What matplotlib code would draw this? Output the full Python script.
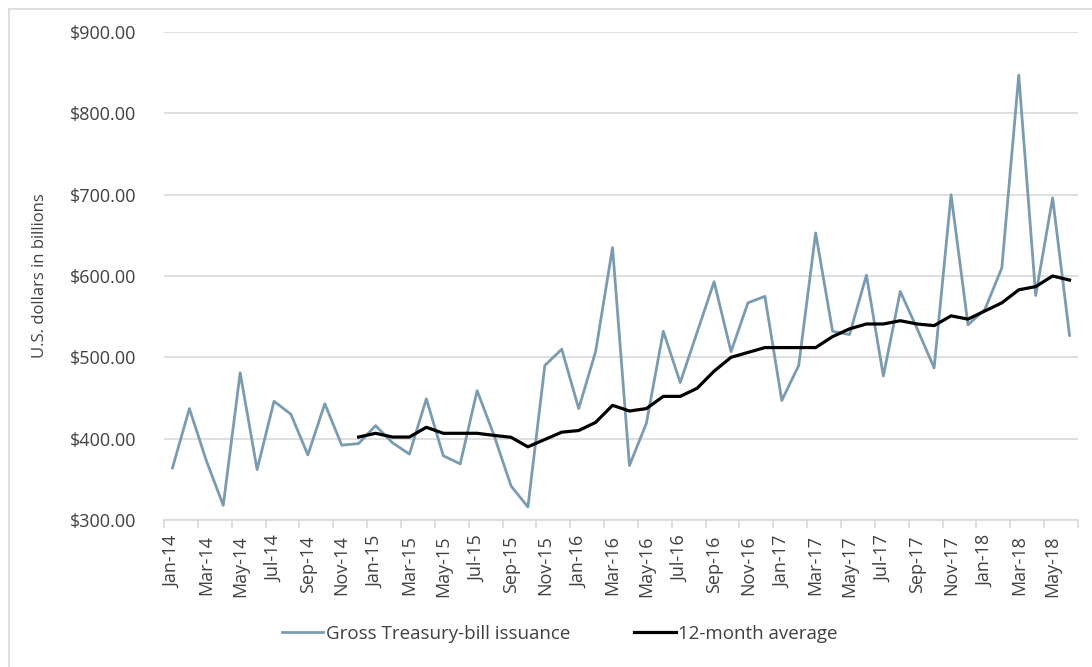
import matplotlib
matplotlib.use("Agg")
import matplotlib.pyplot as plt
from matplotlib.ticker import FixedLocator, FuncFormatter
from matplotlib.lines import Line2D

months = ["Jan", "Feb", "Mar", "Apr", "May", "Jun", "Jul", "Aug", "Sep", "Oct", "Nov", "Dec"]
categories = [f"{m}-{y}" for y in ["14", "15", "16", "17"] for m in months] + \
             [f"{m}-18" for m in months[:6]]

issuance = [364, 437, 373, 318, 481, 362, 446, 430, 380, 443, 392, 394,
            416, 395, 381, 449, 379, 369, 459, 404, 342, 316, 490, 510,
            437, 507, 635, 367, 419, 532, 469, 531, 593, 507, 567, 575,
            447, 490, 653, 532, 528, 601, 477, 581, 535, 487, 700, 540,
            559, 610, 847, 576, 696, 527]

avg_12m = [None] * 11 + [
            402, 406.6, 402, 402, 414, 406.6, 406.6, 406.6, 404, 401.7, 390, 399, 408,
            410, 420, 441, 434, 437, 452, 452, 462, 483, 500, 506, 512,
            512, 512, 512, 525.5, 535, 541, 541, 545, 541, 539, 551, 547,
            557, 567, 583, 587, 600, 595]

FONT = ["Open Sans", "DejaVu Sans"]
plt.rcParams["font.family"] = FONT

W, H = 1092, 667
fig = plt.figure(figsize=(W / 100, H / 100), dpi=100)
ax = fig.add_axes([164 / W, 1 - 520 / H, (1078 - 164) / W, (520 - 32) / H])

x = list(range(len(categories)))
ax.plot(x, issuance, color="#7b9bb0", lw=2.0, label="Gross Treasury-bill issuance")
ax_x = [i for i, v in zip(x, avg_12m) if v is not None]
ax_y = [v for v in avg_12m if v is not None]
ax.plot(ax_x, ax_y, color="black", lw=2.3, label="12-month average")

ax.set_xlim(-0.5, len(categories) - 0.5)
ax.set_ylim(300, 900)
ax.set_yticks(range(300, 901, 100))
ax.yaxis.set_major_formatter(FuncFormatter(lambda v, p: f"${v:,.2f}"))
ax.grid(axis="y", color="#d9d9d9", lw=1.2)
ax.set_axisbelow(True)
ax.tick_params(axis="y", length=0, pad=20, labelsize=13, colors="#404040")

ax.xaxis.set_major_locator(FixedLocator(x[::2]))
ax.set_xticklabels(categories[::2], rotation=90, fontsize=13, color="#404040")
ax.xaxis.set_minor_locator(FixedLocator([i - 0.5 for i in range(0, len(categories) + 1, 2)]))
ax.tick_params(axis="x", which="major", length=0, pad=11)
ax.tick_params(axis="x", which="minor", length=6, color="#d9d9d9", width=1.2)

for s in ["top", "right", "left"]:
    ax.spines[s].set_visible(False)
ax.spines["bottom"].set_color("#d9d9d9")
ax.spines["bottom"].set_linewidth(1.2)

fig.text(40 / W, 1 - 276 / H, "U.S. dollars in billions", rotation=90, ha="center", va="center",
         fontsize=12, color="#404040")

leg = fig.legend(loc="center", bbox_to_anchor=(560 / W, 1 - 634 / H), ncol=2, frameon=False,
                 prop={"size": 13.5}, handlelength=2.2, columnspacing=3.4,
                 handletextpad=0.15)
for t in leg.get_texts():
    t.set_color("#404040")

# chart-area border (visible on left and top only)
fig.add_artist(Line2D([8.5 / W, 8.5 / W], [0, 1 - 8.5 / H], transform=fig.transFigure,
                      color="#d9d9d9", lw=1.2))
fig.add_artist(Line2D([8.5 / W, 1], [1 - 8.5 / H, 1 - 8.5 / H], transform=fig.transFigure,
                      color="#d9d9d9", lw=1.2))

fig.savefig("out.png", dpi=100)
